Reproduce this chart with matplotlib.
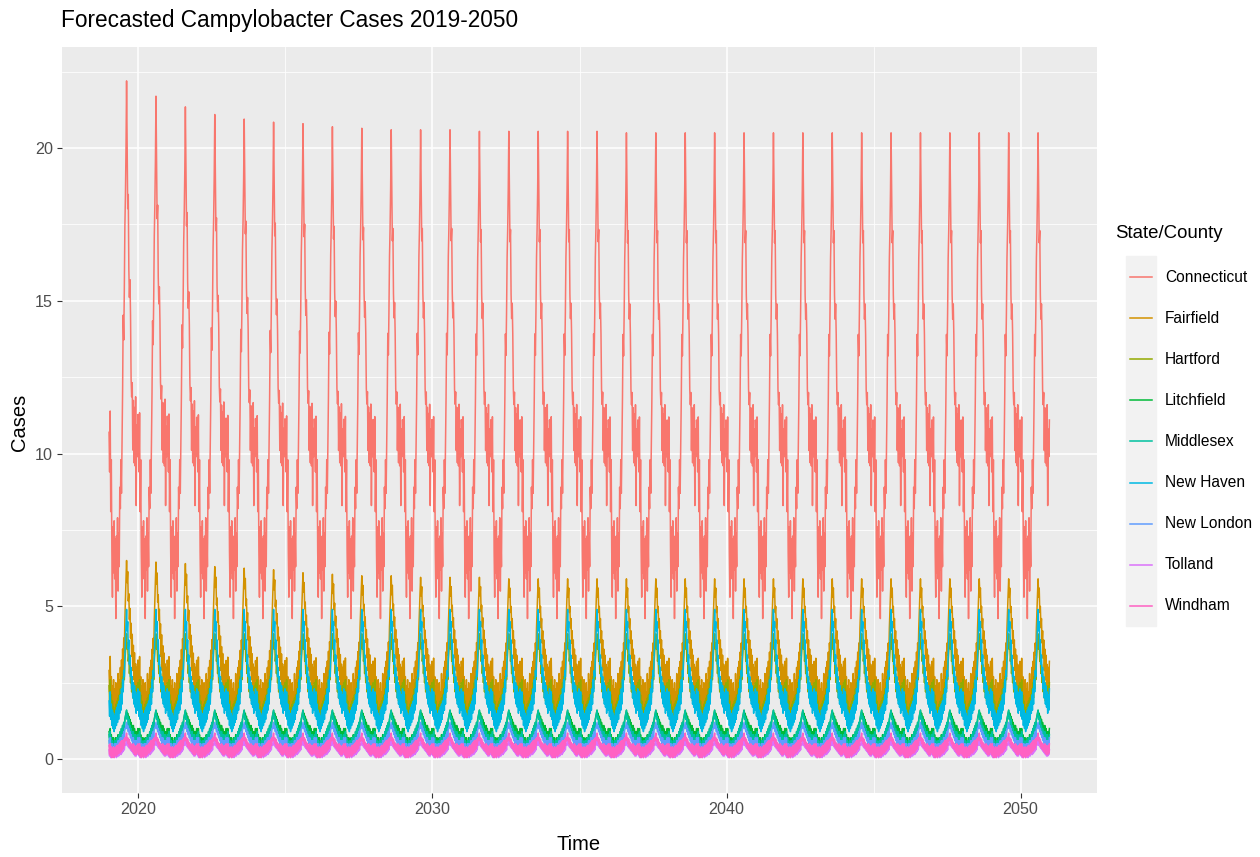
import numpy as np
import matplotlib
matplotlib.use('Agg')
import matplotlib.pyplot as plt
from matplotlib.lines import Line2D
from matplotlib.patches import Rectangle

plt.rcParams['font.family'] = ['Liberation Sans', 'DejaVu Sans']

# forecast years (weekly values, 52 per year)
years = list(range(2019, 2051))

# typical weekly seasonal shape of each series (week 1 .. week 52)
connecticut = [10.6, 9.4, 11.2, 8.1, 9.8, 6.8, 5.3, 7.6, 6.1, 7.8, 5.9, 7.2, 4.6,
               7.3, 6.2, 7.9, 5.5, 7.4, 6.3, 8.9, 8.2, 9.8, 8.7, 10.3, 11.8, 13.9,
               13.2, 14.6, 16.4, 17.3, 18.6, 20.5, 18.6, 16.9, 17.3, 15.2, 14.4, 14.9,
               13.9, 12.1, 11.6, 12.0, 10.1, 11.5, 9.7, 11.3, 9.6, 11.6, 8.3, 10.8, 9.9, 11.1]
fairfield = [2.9, 2.2, 3.3, 2.0, 2.7, 1.6, 2.4, 1.8, 2.6, 1.5, 2.3, 1.7, 2.5,
             1.4, 2.2, 1.9, 2.8, 1.8, 2.6, 2.1, 3.0, 2.3, 3.2, 2.6, 3.5, 2.9,
             3.8, 3.4, 4.3, 4.9, 5.4, 5.9, 5.3, 5.6, 4.8, 5.0, 4.3, 4.6,
             3.8, 4.2, 3.3, 3.9, 2.9, 3.6, 2.6, 3.4, 2.4, 3.1, 2.2, 3.0, 2.5, 3.2]
hartford = [2.4, 1.9, 2.6, 1.6, 2.1, 1.3, 1.9, 1.2, 1.7, 1.1, 1.6, 1.2, 1.8,
            1.3, 1.9, 1.4, 2.0, 1.5, 2.1, 1.7, 2.3, 1.8, 2.5, 2.0, 2.7, 2.3,
            2.9, 2.6, 3.2, 3.5, 3.8, 4.1, 3.6, 3.8, 3.2, 3.4, 2.8, 3.1,
            2.5, 2.8, 2.2, 2.6, 2.0, 2.5, 1.9, 2.4, 1.8, 2.3, 1.7, 2.4, 1.9, 2.5]
litchfield = [0.9, 0.7, 1.0, 0.6, 0.8, 0.5, 0.7, 0.5, 0.7, 0.4, 0.6, 0.5, 0.7,
              0.5, 0.7, 0.5, 0.8, 0.6, 0.8, 0.6, 0.9, 0.7, 1.0, 0.8, 1.1, 0.9,
              1.2, 1.0, 1.3, 1.4, 1.5, 1.6, 1.4, 1.5, 1.3, 1.4, 1.2, 1.3,
              1.1, 1.2, 1.0, 1.1, 0.9, 1.1, 0.8, 1.0, 0.7, 0.9, 0.7, 0.9, 0.8, 1.0]
middlesex = [0.8, 0.5, 0.9, 0.4, 0.7, 0.3, 0.6, 0.3, 0.5, 0.3, 0.6, 0.4, 0.6,
             0.3, 0.7, 0.4, 0.7, 0.5, 0.8, 0.5, 0.9, 0.6, 1.0, 0.7, 1.1, 0.8,
             1.2, 1.0, 1.3, 1.4, 1.5, 1.6, 1.3, 1.4, 1.1, 1.3, 1.0, 1.1,
             0.8, 1.0, 0.7, 0.9, 0.6, 0.9, 0.5, 0.8, 0.5, 0.8, 0.4, 0.7, 0.5, 0.8]
new_haven = [1.9, 1.4, 2.2, 1.3, 1.8, 1.1, 1.6, 1.0, 1.5, 0.9, 1.4, 1.0, 1.6,
             1.1, 1.7, 1.2, 1.8, 1.3, 1.9, 1.5, 2.1, 1.6, 2.3, 1.8, 2.6, 2.2,
             2.9, 2.7, 3.4, 3.9, 4.4, 4.9, 4.2, 4.5, 3.6, 3.9, 3.1, 3.4,
             2.7, 3.0, 2.3, 2.7, 2.0, 2.5, 1.8, 2.4, 1.7, 2.2, 1.5, 2.1, 1.6, 2.3]
new_london = [0.6, 0.4, 0.7, 0.3, 0.5, 0.2, 0.5, 0.3, 0.4, 0.2, 0.5, 0.3, 0.5,
              0.2, 0.5, 0.3, 0.6, 0.3, 0.6, 0.4, 0.7, 0.4, 0.7, 0.5, 0.8, 0.6,
              0.9, 0.7, 1.0, 1.0, 1.1, 1.2, 1.0, 1.1, 0.9, 1.0, 0.8, 0.9,
              0.7, 0.8, 0.6, 0.7, 0.5, 0.7, 0.4, 0.6, 0.4, 0.6, 0.3, 0.6, 0.4, 0.7]
tolland = [0.3, 0.1, 0.35, 0.05, 0.25, 0.05, 0.2, 0.1, 0.25, 0.05, 0.2, 0.1, 0.25,
           0.05, 0.25, 0.1, 0.3, 0.1, 0.3, 0.15, 0.35, 0.15, 0.4, 0.2, 0.4, 0.25,
           0.45, 0.3, 0.5, 0.45, 0.55, 0.6, 0.45, 0.5, 0.4, 0.45, 0.35, 0.4,
           0.3, 0.35, 0.25, 0.35, 0.2, 0.3, 0.15, 0.3, 0.1, 0.3, 0.1, 0.25, 0.15, 0.3]
windham = [0.45, 0.15, 0.5, 0.1, 0.4, 0.05, 0.35, 0.1, 0.4, 0.05, 0.35, 0.15, 0.4,
           0.1, 0.45, 0.15, 0.45, 0.2, 0.5, 0.2, 0.55, 0.25, 0.6, 0.3, 0.6, 0.35,
           0.65, 0.45, 0.7, 0.6, 0.75, 0.85, 0.6, 0.7, 0.5, 0.65, 0.4, 0.55,
           0.35, 0.5, 0.3, 0.45, 0.25, 0.5, 0.2, 0.45, 0.15, 0.4, 0.15, 0.45, 0.2, 0.5]

# summer peak of each year (higher at the start of the forecast)
ct_peaks = [22.2, 21.7, 21.35, 21.1, 20.95, 20.85, 20.8, 20.7, 20.65, 20.6, 20.6,
            20.6, 20.55, 20.55, 20.55, 20.55, 20.55, 20.5, 20.5, 20.5, 20.5, 20.5,
            20.5, 20.5, 20.5, 20.5, 20.5, 20.5, 20.5, 20.5, 20.5, 20.5]
ff_peaks = [6.5, 6.45, 6.4, 6.3, 6.25, 6.2, 6.1, 6.05, 6.0, 6.0, 5.95, 5.95, 5.95,
            5.9, 5.9, 5.9, 5.9, 5.9, 5.9, 5.9, 5.9, 5.9, 5.9, 5.9, 5.9, 5.9,
            5.9, 5.9, 5.9, 5.9, 5.9, 5.9]

names = ['Connecticut', 'Fairfield', 'Hartford', 'Litchfield', 'Middlesex',
         'New Haven', 'New London', 'Tolland', 'Windham']
colors = ['#F8766D', '#D39200', '#93AA00', '#00BA38', '#00C19F',
          '#00B9E3', '#619CFF', '#DB72FB', '#FF61C3']


def build(shape, peaks=None, base=0.0):
    shape = np.array(shape)
    top = shape.max()
    out = []
    for k, yr in enumerate(years):
        vals = shape.copy()
        if peaks is not None:
            w = np.clip(shape - base, 0, None) / (top - base)
            vals = shape + (peaks[k] - top) * w
        out.append(vals)
    return np.concatenate(out)


series = [build(connecticut, ct_peaks, 10.0), build(fairfield, ff_peaks, 3.0),
          build(hartford), build(litchfield), build(middlesex), build(new_haven),
          build(new_london), build(tolland), build(windham)]
t = years[0] + np.arange(len(series[0])) / 52.0

W, H = 1260, 857
fig = plt.figure(figsize=(W / 100, H / 100), dpi=100)
ax = fig.add_axes([62 / W, 1 - 793 / H, (1097 - 62) / W, (793 - 47) / H])
ax.set_facecolor('#EBEBEB')

for y, c in zip(series, colors):
    ax.plot(t, y, color=c, lw=1.1)

ax.set_xlim(2017.4, 2052.6)
ax.set_ylim(-1.11, 23.31)
ax.set_xticks([2020, 2030, 2040, 2050])
ax.set_xticks([2025, 2035, 2045], minor=True)
ax.set_yticks([0, 5, 10, 15, 20])
ax.set_yticks([2.5, 7.5, 12.5, 17.5, 22.5], minor=True)
ax.grid(which='major', color='white', lw=1.1)
ax.grid(which='minor', color='white', lw=0.55)
ax.set_axisbelow(True)
for s in ax.spines.values():
    s.set_visible(False)
ax.tick_params(which='major', length=3.5, width=0.8, color='#333333',
               labelcolor='#4D4D4D', labelsize=11.6, pad=3)
ax.tick_params(which='minor', length=0)

fig.text(61 / W, 1 - 20 / H, 'Forecasted Campylobacter Cases 2019-2050',
         fontsize=16.3, va='center', ha='left')
fig.text(579 / W, 1 - 845 / H, 'Time', fontsize=14.5, ha='center', va='center')
fig.text(19 / W, 1 - 422 / H, 'Cases', fontsize=14.5, rotation=90,
         ha='center', va='center')

# legend
fig.text(1115 / W, 1 - 233 / H, 'State/County', fontsize=13.4, ha='left', va='center')
fig.patches.append(Rectangle((1126 / W, 1 - 626 / H), 30 / W, 370 / H,
                             transform=fig.transFigure, color='#F2F2F2', zorder=0))
for i, (n, c) in enumerate(zip(names, colors)):
    yy = 1 - (277 + i * 41.1) / H
    fig.lines.append(Line2D([1130 / W, 1152 / W], [yy, yy], color=c, lw=1.1,
                            transform=fig.transFigure))
    fig.text(1165 / W, yy, n, fontsize=11.2, ha='left', va='center')

fig.savefig('out.png', dpi=100)
